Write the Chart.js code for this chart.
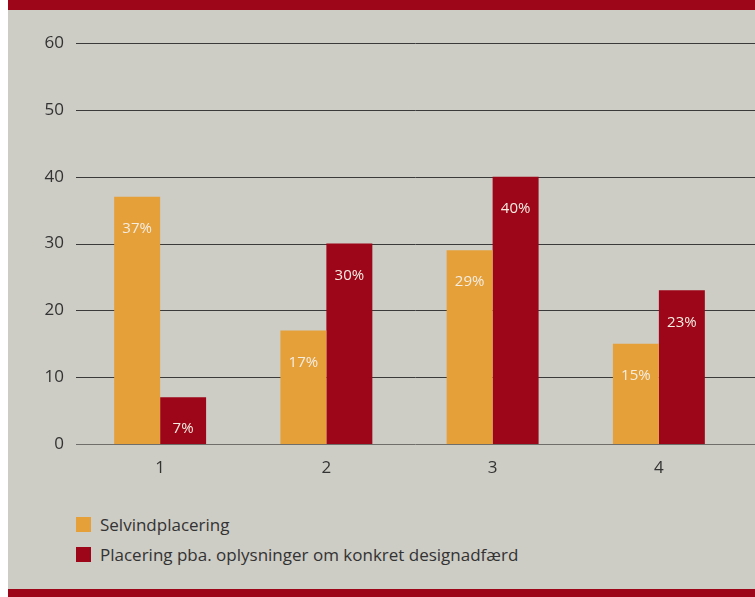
<!DOCTYPE html>
<html>
<head>
<meta charset="utf-8">
<script src="https://cdn.jsdelivr.net/npm/chart.js@4.4.0/dist/chart.umd.min.js"></script>
<style>
  html, body { margin: 0; padding: 0; background: #ffffff; }
  #panel { position: absolute; left: 8px; top: 0; width: 747px; height: 597px; background: #cdccc5; overflow: hidden; }
  #topBar { position: absolute; left: 0; top: 0; width: 747px; height: 10px; background: #9d0618; }
  #bottomBar { position: absolute; left: 0; top: 589px; width: 747px; height: 8px; background: #9d0618; }
  #wrap { position: absolute; left: -8px; top: 10px; width: 755px; height: 480px; }
  #legend { position: absolute; left: 68px; top: 509px; font-family: "Open Sans", sans-serif; font-size: 17px; color: #333; }
  .item { display: flex; align-items: center; height: 30px; }
  .box { width: 15px; height: 15px; margin-right: 9px; }
</style>
</head>
<body>
<div id="panel">
  <div id="topBar"></div>
  <div id="wrap"><canvas id="chart"></canvas></div>
  <div id="legend"></div>
  <div id="bottomBar"></div>
</div>
<script>
// data
const categories = ['1', '2', '3', '4'];
const selvind = [37, 17, 29, 15];
const konkret = [7, 30, 40, 23];
const seriesNames = ['Selvindplacering', 'Placering pba. oplysninger om konkret designadfærd'];
const yTicks = [0, 10, 20, 30, 40, 50, 60];

const ORANGE = '#e5a03a';
const RED = '#9d0618';
const FONT = '"Open Sans", sans-serif';

// horizontal grid lines, running out to the right edge of the canvas
const gridLines = {
    id: 'gridLines',
    beforeDatasetsDraw(chart) {
        const ctx = chart.ctx;
        const y = chart.scales.y;
        ctx.save();
        ctx.lineWidth = 1;
        yTicks.forEach(v => {
            const py = Math.round(y.getPixelForValue(v)) + 0.5;
            ctx.strokeStyle = v === 0 ? '#6f6e6a' : '#3a3a3a';
            ctx.beginPath();
            ctx.moveTo(chart.chartArea.left - 1, py);
            ctx.lineTo(chart.width, py);
            ctx.stroke();
        });
        ctx.restore();
    }
};

// percentage labels inside the top of each bar
const barLabels = {
    id: 'barLabels',
    afterDatasetsDraw(chart) {
        const ctx = chart.ctx;
        ctx.save();
        ctx.font = '15px ' + FONT;
        ctx.fillStyle = '#f4ede2';
        ctx.textAlign = 'center';
        ctx.textBaseline = 'middle';
        chart.data.datasets.forEach((ds, i) => {
            chart.getDatasetMeta(i).data.forEach((bar, j) => {
                ctx.fillText(ds.data[j] + '%', bar.x, bar.y + 32);
            });
        });
        ctx.restore();
    }
};

const chart = new Chart(document.getElementById('chart'), {
    type: 'bar',
    data: {
        labels: categories,
        datasets: [
            { label: seriesNames[0], data: selvind, backgroundColor: ORANGE },
            { label: seriesNames[1], data: konkret, backgroundColor: RED }
        ]
    },
    options: {
        responsive: true,
        maintainAspectRatio: false,
        animation: false,
        layout: { padding: { top: 33, right: 13, bottom: 0, left: 0 } },
        plugins: { legend: { display: false }, tooltip: { enabled: false } },
        datasets: { bar: { categoryPercentage: 0.553, barPercentage: 1 } },
        scales: {
            x: {
                grid: { display: false, drawTicks: false },
                border: { display: false },
                ticks: { color: '#333', font: { family: FONT, size: 17 }, padding: 14 },
                afterFit(s) { s.height = 46; }
            },
            y: {
                min: 0, max: 60,
                grid: { display: false, drawTicks: false },
                border: { display: false },
                ticks: { stepSize: 10, color: '#333', font: { family: FONT, size: 17 }, padding: 13 },
                afterFit(s) { s.width = 77; }
            }
        }
    },
    plugins: [gridLines, barLabels]
});

// legend built from the chart's datasets
const legend = document.getElementById('legend');
chart.data.datasets.forEach(ds => {
    const row = document.createElement('div');
    row.className = 'item';
    row.innerHTML = '<div class="box" style="background:' + ds.backgroundColor + '"></div><span>' + ds.label + '</span>';
    legend.appendChild(row);
});
</script>
</body>
</html>
